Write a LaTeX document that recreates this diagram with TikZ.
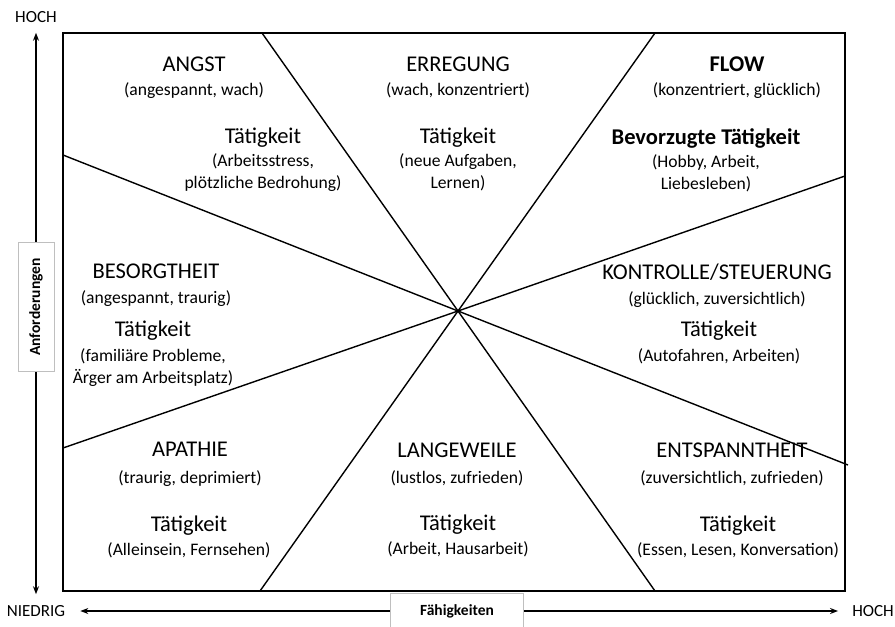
\documentclass[tikz,border=0pt]{standalone}
\usepackage{fontspec}
\setmainfont{Carlito}
\usetikzlibrary{arrows.meta}

\newcommand{\zonetitle}[1]{{\fontsize{22.5}{22}\selectfont #1}}

\begin{document}
\begin{tikzpicture}[
    x=1pt, y=-1pt,
    >={Stealth[length=8pt,width=6pt]},
    every node/.style={font=\fontsize{17.6}{22}\selectfont},
    zone/.style={align=center, inner sep=0pt, anchor=north},
    axislabel/.style={font=\fontsize{17}{20}\selectfont, inner sep=0pt},
    axisbox/.style={draw=black!25, fill=white, inner sep=0pt,
        font=\bfseries\fontsize{15.5}{18}\selectfont},
    divider/.style={line width=1.4pt},
    axisarrow/.style={<->, line width=1.3pt}
]
\useasboundingbox (0,0) rectangle (895,627);

% frame and the four dividing lines
\draw[line width=2pt] (63,33) rectangle (845,591);
\coordinate (mid) at (458,311);
\draw[divider] (262,33) -- (mid) -- (655,591);
\draw[divider] (655,33) -- (mid) -- (260,591);
\draw[divider] (63,155) -- (mid) -- (848,465);
\draw[divider] (63,448) -- (mid) -- (845,176);

% zones, top row
\node[zone] (angst) at (194,57) {\zonetitle{ANGST}\\[2pt](angespannt, wach)};
\node[zone] (angstakt) at (263,128) {\zonetitle{Tätigkeit}\\[1pt](Arbeitsstress,\\plötzliche Bedrohung)};
\node[zone] (erregung) at (458,57) {\zonetitle{ERREGUNG}\\[2pt](wach, konzentriert)};
\node[zone] (erregungakt) at (458,128) {\zonetitle{Tätigkeit}\\[1pt](neue Aufgaben,\\Lernen)};
\node[zone] (flow) at (737,57) {\zonetitle{\textbf{FLOW}}\\[2pt](konzentriert, glücklich)};
\node[zone] (flowakt) at (706,128) {\zonetitle{\textbf{Bevorzugte Tätigkeit}}\\[1pt](Hobby, Arbeit,\\Liebesleben)};

% zones, middle row
\node[zone] (besorgt) at (156,264) {\zonetitle{BESORGTHEIT}\\[3pt](angespannt, traurig)};
\node[zone] (besorgtakt) at (153,321) {\zonetitle{Tätigkeit}\\[3pt](familiäre Probleme,\\Ärger am Arbeitsplatz)};
\node[zone] (kontrolle) at (717,264) {\zonetitle{KONTROLLE/STEUERUNG}\\[3pt](glücklich, zuversichtlich)};
\node[zone] (kontrolleakt) at (719,321) {\zonetitle{Tätigkeit}\\[3pt](Autofahren, Arbeiten)};

% zones, bottom row
\node[zone] (apathie) at (190,442) {\zonetitle{APATHIE}\\[5pt](traurig, deprimiert)};
\node[zone] (apathieakt) at (189,516) {\zonetitle{Tätigkeit}\\[2pt](Alleinsein, Fernsehen)};
\node[zone] (langeweile) at (457,443) {\zonetitle{LANGEWEILE}\\[4pt](lustlos, zufrieden)};
\node[zone] (langeweileakt) at (458,515) {\zonetitle{Tätigkeit}\\[2pt](Arbeit, Hausarbeit)};
\node[zone] (entspannt) at (732,443) {\zonetitle{ENTSPANNTHEIT}\\[4pt](zuversichtlich, zufrieden)};
\node[zone] (entspanntakt) at (738,516) {\zonetitle{Tätigkeit}\\[2pt](Essen, Lesen, Konversation)};

% axes
\node[axislabel] (hochv) at (36,17) {HOCH};
\node[axislabel] (niedrig) at (36,611) {NIEDRIG};
\node[axislabel] (hochh) at (873,611) {HOCH};
\draw[axisarrow, shorten <=10pt, shorten >=11pt] (hochv.south) -- (niedrig.north);
\draw[axisarrow, shorten <=15pt, shorten >=14pt] (niedrig.east) -- (hochh.west);
\node[axisbox, rotate=90, minimum width=129pt, minimum height=36pt] (anford) at (36,307) {Anforderungen};
\node[axisbox, minimum width=133pt, minimum height=35pt] (faehig) at (457,611) {Fähigkeiten};

\end{tikzpicture}
\end{document}
